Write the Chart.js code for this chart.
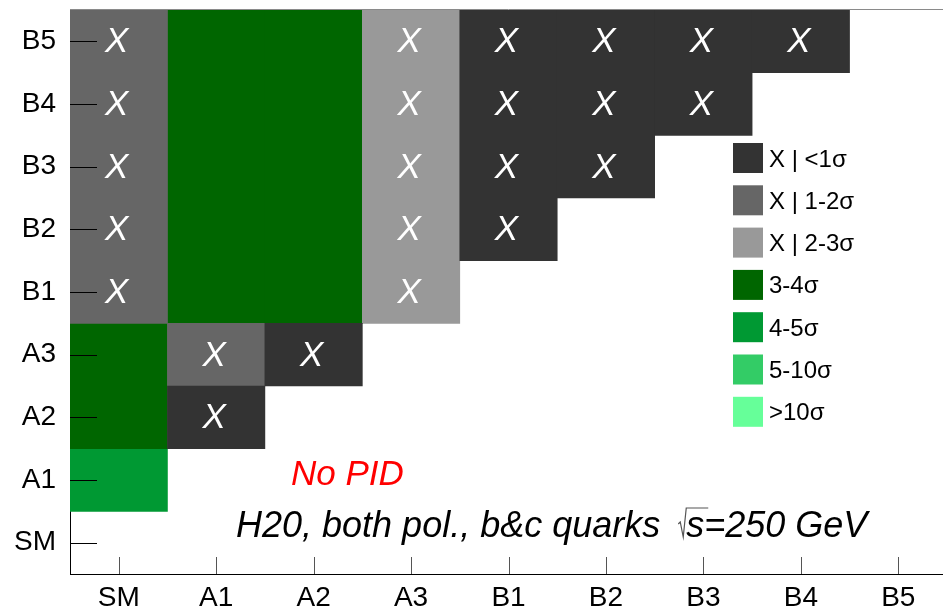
<!DOCTYPE html>
<html>
<head>
<meta charset="utf-8">
<script src="https://cdn.jsdelivr.net/npm/chart.js@4.4.1/dist/chart.umd.min.js"></script>
<style>
  html, body { margin: 0; padding: 0; background: #fff; overflow: hidden; }
  #wrap { width: 943px; height: 608px; overflow: hidden; }
  canvas { display: block; }
</style>
</head>
<body>
<div id="wrap"><canvas id="c" width="947" height="608"></canvas></div>
<script>
// Hypotheses compared on both axes
const categories = ['SM', 'A1', 'A2', 'A3', 'B1', 'B2', 'B3', 'B4', 'B5'];

// Separation significance classes
const levelLabels = ['X | <1σ', 'X | 1-2σ', 'X | 2-3σ', '3-4σ', '4-5σ', '5-10σ', '>10σ'];
const levelColors = ['#333333', '#666666', '#999999', '#006600', '#009933', '#33cc66', '#66ff99'];
// classes below 3σ are marked "X" (not separable)
const levelMarked = [true, true, true, false, false, false, false];

// Row span [from, to] of each class in every column (null = no cell in that column)
const spanBelow1   = [null, ['A2', 'A2'], ['A3', 'A3'], null, ['B2', 'B5'], ['B3', 'B5'], ['B4', 'B5'], ['B5', 'B5'], null];
const span1to2     = [['B1', 'B5'], ['A3', 'A3'], null, null, null, null, null, null, null];
const span2to3     = [null, null, null, ['B1', 'B5'], null, null, null, null, null];
const span3to4     = [['A2', 'A3'], ['B1', 'B5'], ['B1', 'B5'], null, null, null, null, null, null];
const span4to5     = [['A1', 'A1'], null, null, null, null, null, null, null, null];
const span5to10    = [null, null, null, null, null, null, null, null, null];
const spanAbove10  = [null, null, null, null, null, null, null, null, null];

const levelSpans = [spanBelow1, span1to2, span2to3, span3to4, span4to5, span5to10, spanAbove10];

const FONT = '"Liberation Sans", Arial, Helvetica, sans-serif';

// floating bar [bottom edge, top edge] covering the rows of a span
function toRange(span) {
  if (!span) return null;
  return [categories.indexOf(span[0]) - 0.5, categories.indexOf(span[1]) + 0.5];
}

const datasets = levelLabels.map((label, k) => ({
  label,
  data: levelSpans[k].map(toRange),
  backgroundColor: levelColors[k],
  borderWidth: 0,
  borderSkipped: false,
  barPercentage: 1,
  categoryPercentage: 1,
  grouped: false
}));

const decorations = {
  id: 'decorations',
  afterDatasetsDraw(chart) {
    const { ctx, chartArea: a, scales: { x, y } } = chart;
    ctx.save();

    // "X" marks on the non-separable cells
    ctx.fillStyle = '#ffffff';
    ctx.font = 'italic 35px ' + FONT;
    ctx.textAlign = 'center';
    ctx.textBaseline = 'alphabetic';
    levelSpans.forEach((spans, k) => {
      if (!levelMarked[k]) return;
      spans.forEach((span, col) => {
        if (!span) return;
        const r0 = categories.indexOf(span[0]);
        const r1 = categories.indexOf(span[1]);
        for (let r = r0; r <= r1; r++) {
          ctx.fillText('X', x.getPixelForValue(col) - 2, y.getPixelForValue(r) + 11);
        }
      });
    });

    // frame top edge
    ctx.strokeStyle = '#8a8a8a';
    ctx.lineWidth = 1;
    ctx.beginPath();
    ctx.moveTo(a.left, a.top - 0.5);
    ctx.lineTo(a.right, a.top - 0.5);
    ctx.stroke();

    // inward tick marks
    ctx.strokeStyle = '#000000';
    ctx.beginPath();
    categories.forEach((_, i) => {
      const py = Math.round(y.getPixelForValue(i)) + 0.5;
      ctx.moveTo(a.left, py);
      ctx.lineTo(a.left + 27, py);
    });
    ctx.stroke();
    ctx.strokeStyle = '#555555';
    ctx.beginPath();
    categories.forEach((_, i) => {
      const px = Math.round(x.getPixelForValue(i)) + 0.5;
      ctx.moveTo(px, a.bottom);
      ctx.lineTo(px, a.bottom - 17);
    });
    ctx.stroke();

    // legend
    ctx.textAlign = 'left';
    ctx.font = '24px ' + FONT;
    levelLabels.forEach((label, k) => {
      const top = 143 + k * 42.3;
      ctx.fillStyle = levelColors[k];
      ctx.fillRect(733, top, 30, 30);
      ctx.fillStyle = '#000000';
      ctx.fillText(label, 769, top + 23.5);
    });

    // annotations
    ctx.font = 'italic 35px ' + FONT;
    ctx.fillStyle = '#ff0000';
    ctx.fillText('No PID', 291, 485);

    ctx.font = 'italic 36px ' + FONT;
    ctx.fillStyle = '#000000';
    const base = 537;
    let px = 236;
    const head = 'H20, both pol., b&c quarks';
    ctx.fillText(head, px, base);
    px += ctx.measureText(head).width + 18;
    // square root sign over "s"
    const sW = ctx.measureText('s').width;
    ctx.lineWidth = 1.2;
    ctx.beginPath();
    ctx.moveTo(px, base - 13);
    ctx.lineTo(px + 2, base - 15);
    ctx.lineTo(px + 5, base);
    ctx.lineTo(px + 8, base - 29);
    ctx.lineTo(px + 12 + sW, base - 29);
    ctx.stroke();
    px += 8;
    ctx.fillText('s', px, base);
    px += sW;
    ctx.fillText('=250 GeV', px, base);

    ctx.restore();
  }
};

new Chart(document.getElementById('c'), {
  type: 'bar',
  data: { labels: categories, datasets },
  options: {
    responsive: false,
    animation: false,
    devicePixelRatio: 1,
    layout: { padding: { top: 10, left: 0, right: 0, bottom: 0 } },
    plugins: { legend: { display: false }, tooltip: { enabled: false } },
    scales: {
      x: {
        type: 'category',
        offset: true,
        grid: { display: false, drawTicks: false },
        border: { display: true, color: '#000000', width: 1 },
        ticks: { color: '#000000', font: { family: FONT, size: 28 }, padding: 7, maxRotation: 0, autoSkip: false },
        afterFit(s) { s.height = 34; s.paddingLeft = 0; s.paddingRight = 0; }
      },
      y: {
        type: 'linear',
        min: -0.5,
        max: 8.5,
        grid: { display: false, drawTicks: false },
        border: { display: true, color: '#000000', width: 1 },
        afterBuildTicks(s) { s.ticks = categories.map((_, i) => ({ value: i })); },
        ticks: {
          color: '#000000',
          font: { family: FONT, size: 28 },
          padding: 14,
          callback: v => categories[v]
        },
        afterFit(s) { s.width = 70; s.paddingTop = 0; s.paddingBottom = 0; }
      }
    }
  },
  plugins: [decorations]
});
</script>
</body>
</html>
